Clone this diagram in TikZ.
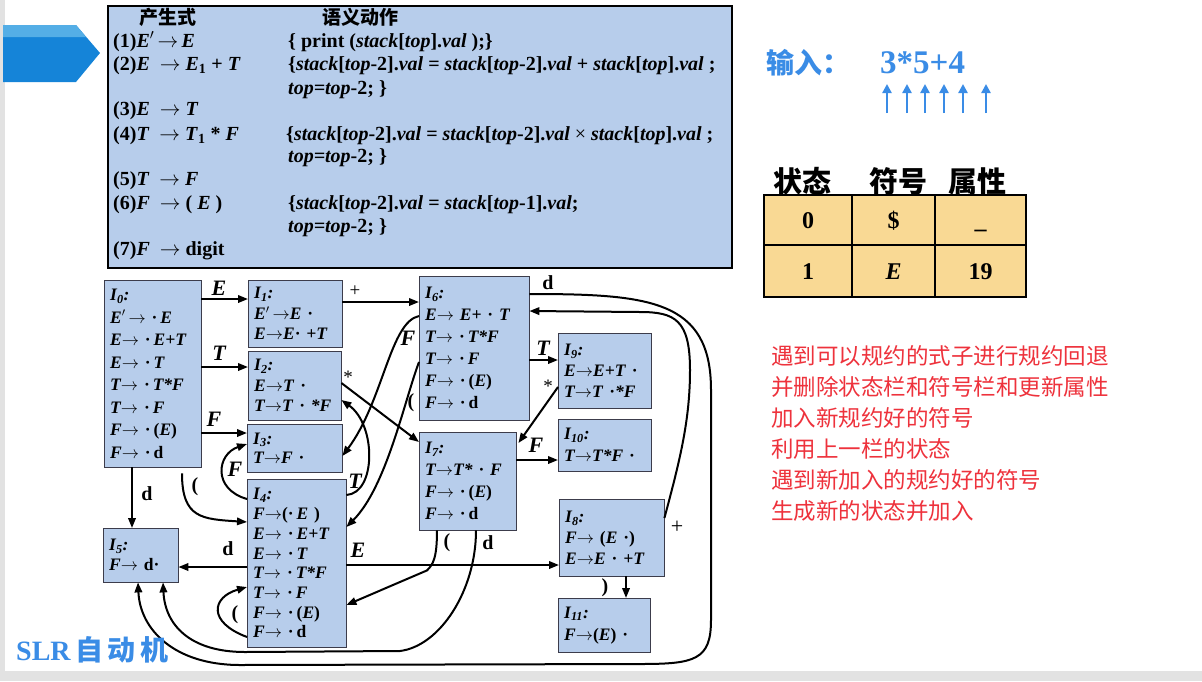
\documentclass[tikz,border=0pt]{standalone}
\usepackage{fontspec}
\setmainfont{Liberation Serif}
\newfontfamily\cjk{Noto Sans CJK SC}
\usetikzlibrary{arrows.meta,positioning}
\definecolor{boxblue}{RGB}{183,205,235}
\definecolor{boxline}{RGB}{60,60,75}
\definecolor{inblue}{RGB}{58,140,230}
\definecolor{tabfill}{RGB}{249,217,148}
\definecolor{notered}{RGB}{238,50,60}
\definecolor{tagdark}{RGB}{21,132,216}
\definecolor{taglight}{RGB}{84,174,230}
\definecolor{slidegray}{RGB}{226,226,226}
\newcommand{\st}[1]{\textit{I}\textsubscript{\textit{#1}}:}
\newcommand{\rarr}{$\rightarrow$}
\newcommand{\dt}{\textup{·}}
\newcommand{\lp}{\textup{(}}
\newcommand{\rp}{\textup{)}}

\begin{document}
\begin{tikzpicture}[x=1pt,y=-1pt,
    state/.style={draw=boxline, fill=boxblue, anchor=north west, align=left,
      inner xsep=6pt, inner ysep=0pt,
      font=\bfseries\itshape\fontsize{17.5}{#1}\selectfont},
    edge/.style={-{Triangle[length=10pt,width=7.5pt]}, line width=2pt},
    elab/.style={inner sep=0pt, font=\bfseries\itshape\fontsize{22}{22}\selectfont},
    slab/.style={inner sep=0pt, font=\bfseries\fontsize{20}{20}\selectfont},
    prodtxt/.style={anchor=base west, inner sep=0pt, font=\bfseries\fontsize{20}{20}\selectfont},
    cell/.style={draw=black, line width=1.5pt, fill=tabfill, inner sep=0pt,
      text height=17pt, text depth=0pt, font=\bfseries\fontsize{24}{24}\selectfont}]
  \useasboundingbox (0,0) rectangle (1202,681);
  \fill[slidegray] (0,0) rectangle (1202,681);
  \fill[white] (5,0) rectangle (1202,671);

  % --- Tag arrow ---
  \fill[tagdark] (3,25) -- (76,25) -- (100,53) -- (76,82) -- (3,82) -- cycle;
  \fill[taglight] (3,25) -- (76,25) -- (86,37) -- (3,37) -- cycle;

  % --- Productions and semantic actions ---
  \node[draw=black, line width=2pt, fill=boxblue, anchor=north west, inner sep=0pt,
    minimum width=624pt, minimum height=262pt] (prod) at (107,5) {};
  \node[font=\cjk\bfseries\fontsize{19}{19}\selectfont] (hprod) at (168,17) {产生式};
  \node[font=\cjk\bfseries\fontsize{19}{19}\selectfont] (hsem) at (360,17) {语义动作};
  \node[prodtxt] (p1) at (113,47) {(1)\textit{E}$'$\,\rarr\,\textit{E}};
  \node[prodtxt] (p2) at (113,70) {(2)\textit{E} \ \rarr\ \textit{E}\textsubscript{1} + \textit{T}};
  \node[prodtxt] (p3) at (113,115) {(3)\textit{E} \ \rarr\ \textit{T}};
  \node[prodtxt] (p4) at (113,140) {(4)\textit{T} \ \rarr\ \textit{T}\textsubscript{1} * \textit{F}};
  \node[prodtxt] (p5) at (113,185) {(5)\textit{T} \ \rarr\ \textit{F}};
  \node[prodtxt] (p6) at (113,209) {(6)\textit{F} \ \rarr\ ( \textit{E} )};
  \node[prodtxt] (p7) at (113,255) {(7)\textit{F} \ \rarr\ digit};
  \node[prodtxt] (a1) at (288,47) {\{ print (\textit{stack}[\textit{top}].\textit{val} );\}};
  \node[prodtxt] (a2) at (288,70) {\{\textit{stack}[\textit{top}-2].\textit{val} = \textit{stack}[\textit{top}-2].\textit{val} + \textit{stack}[\textit{top}].\textit{val} ;};
  \node[prodtxt] (a2b) at (288,94) {\textit{top=top}-2; \}};
  \node[prodtxt] (a4) at (286,140) {\{\textit{stack}[\textit{top}-2].\textit{val} = \textit{stack}[\textit{top}-2].\textit{val} {\mdseries ×} \textit{stack}[\textit{top}].\textit{val} ;};
  \node[prodtxt] (a4b) at (288,162) {\textit{top=top}-2; \}};
  \node[prodtxt] (a6) at (288,209) {\{\textit{stack}[\textit{top}-2].\textit{val} = \textit{stack}[\textit{top}-1].\textit{val};};
  \node[prodtxt] (a6b) at (288,232) {\textit{top=top}-2; \}};

  % --- SLR states ---
  \node[state=22.5, text width=85pt, minimum height=187pt] (I0) at (104,280)
    {\st{0}\\ E$'$\,\rarr\ \dt\,E\\ E\rarr\ \dt\,E+T\\ E\rarr\ \dt\,T\\ T\rarr\ \dt\,T*F\\ T\rarr\ \dt\,F\\ F\rarr\ \dt\,\lp E\rp\\ F\rarr\ \dt\,\textup{d}};
  \node[state=20.5, text width=82pt, minimum height=67pt] (I1) at (248,280)
    {\st{1}\\ E$'$\,\rarr E \dt\\ E\rarr E\dt\ +T};
  \node[state=20.5, text width=81pt, minimum height=69pt] (I2) at (248,351)
    {\st{2}\\ E\rarr T \dt\\ T\rarr T \dt\ *F};
  \node[state=19.5, text width=83pt, minimum height=48pt] (I3) at (247,424)
    {\st{3}\\ T\rarr F \dt};
  \node[state=19.7, text width=87pt, minimum height=168pt] (I4) at (247,479)
    {\st{4}\\ F\rarr\lp\dt\,E \rp\\ E\rarr\ \dt\,E+T\\ E\rarr\ \dt\,T\\ T\rarr\ \dt\,T*F\\ T\rarr\ \dt\,F\\ F\rarr\ \dt\,\lp E\rp\\ F\rarr\ \dt\,\textup{d}};
  \node[state=20, text width=63pt, minimum height=54pt] (I5) at (103,528)
    {\st{5}\\ F\rarr\ \textup{d}\dt};
  \node[state=22, text width=98pt, minimum height=144pt] (I6) at (419,276)
    {\st{6}\\ E\rarr\ E+\ \dt\ T\\ T\rarr\ \dt\,T*F\\ T\rarr\ \dt\,F\\ F\rarr\ \dt\,\lp E\rp\\ F\rarr\ \dt\,\textup{d}};
  \node[state=22, text width=85pt, minimum height=98pt] (I7) at (419,432)
    {\st{7}\\ T\rarr T*\ \dt\ F\\ F\rarr\ \dt\,\lp E\rp\\ F\rarr\ \dt\,\textup{d}};
  \node[state=21, text width=93pt, minimum height=77pt] (I8) at (559,499)
    {\st{8}\\ F\rarr\ \lp E \dt\rp\\ E\rarr E\ \dt\ +T};
  \node[state=21, text width=81pt, minimum height=75pt] (I9) at (558,333)
    {\st{9}\\ E\rarr E+T \dt\\ T\rarr T \dt*F};
  \node[state=22, text width=81pt, minimum height=52pt] (I10) at (558,419)
    {\st{10}\\ T\rarr T*F \dt};
  \node[state=22, text width=80pt, minimum height=54pt] (I11) at (558,598)
    {\st{11}\\ F\rarr\lp E\rp\ \dt};

  % --- Transitions ---
  \draw[edge] ([yshift=-19pt]I0.north east) -- ([yshift=-19pt]I1.north west);
  \draw[edge] ([yshift=-87pt]I0.north east) -- ([yshift=-16pt]I2.north west);
  \draw[edge] ([yshift=-153pt]I0.north east) -- ([yshift=-9pt]I3.north west);
  \draw[edge] ([yshift=-22pt]I1.north east) -- ([yshift=-26pt]I6.north west);
  \draw[edge] ([yshift=-84pt]I6.north east) -- ([yshift=-27pt]I9.north west);
  \draw[edge] ([yshift=-54pt]I9.north west) -- ([xshift=2pt,yshift=-11pt]I7.north east);
  \draw[edge] ([yshift=-28pt]I7.north east) -- ([yshift=-41pt]I10.north west);
  \draw[edge] ([yshift=-32pt]I2.north east) -- ([yshift=-10pt]I7.north west);
  \draw[edge] ([yshift=-40pt]I6.north west) .. controls +(-29,6) and +(41,-55) .. ([yshift=-32pt]I3.north east);
  \draw[edge] ([yshift=-86pt]I6.north west) .. controls +(-15,40) and +(40,-40) .. ([yshift=-48pt]I4.north east);
  \draw[edge] ([yshift=-16pt]I4.north east) .. controls +(30,-2) and +(35,25) .. ([yshift=-49pt]I2.north east);
  \draw[edge] ([yshift=-20pt]I4.north west) .. controls +(-35,-10) and +(-30,10) .. ([yshift=-20pt]I3.north west);
  \draw[edge] ([xshift=78pt,yshift=-6pt]I0.south west) .. controls +(0,45) and +(-45,-3) .. ([yshift=-43pt]I4.north west);
  \draw[edge] ([xshift=28pt]I0.south west) -- ([xshift=29pt]I5.north west);
  \draw[edge] ([yshift=-88pt]I4.north west) -- ([yshift=-39pt]I5.north east);
  \draw[edge] ([yshift=-86pt]I4.north east) -- ([yshift=-66pt]I8.north west);
  \draw[edge] ([yshift=-158pt]I4.north west) .. controls +(-40,-15) and +(-35,10) .. ([yshift=-108pt]I4.north west);
  \draw[edge] ([xshift=18pt]I7.south west) .. controls +(0,28) and +(6,-6) .. +(-10,40) -- ([yshift=-126pt]I4.north east);
  \draw[edge] ([xshift=57pt]I7.south west) .. controls +(0,60) and +(40,-5) .. (400,651) -- (245,652)
    .. controls (190,652) and (165,625) .. ([xshift=60pt]I5.south west);
  \draw[edge] ([yshift=-18pt]I6.north east) .. controls (650,294) and (711,300) .. (711,390) -- (711,620)
    .. controls (711,660) and (695,664) .. (640,664) -- (240,665)
    .. controls (175,665) and (140,630) .. ([xshift=35pt]I5.south west);
  \draw[edge] ([yshift=-19pt]I8.north east) .. controls (680,460) and (690,420) .. (690,370)
    .. controls (690,320) and (675,312) .. (640,312) -- ([yshift=-35pt]I6.north east);
  \draw[edge] ([xshift=67pt]I8.south west) -- ([xshift=68pt]I11.north west);

  % --- Transition labels ---
  \node[elab] (lE0) at (219,288) {E};
  \node[elab] (lT0) at (219,353) {T};
  \node[elab] (lF0) at (214,419) {F};
  \node[slab, font=\fontsize{19}{19}\selectfont] (lp1) at (355,291) {+};
  \node[elab] (lT6) at (543,348) {T};
  \node[slab, font=\fontsize{19}{19}\selectfont] (ls9) at (548,386) {*};
  \node[elab] (lF7) at (536,445) {F};
  \node[slab, font=\fontsize{19}{19}\selectfont] (ls2) at (348,377) {*};
  \node[elab] (lF6) at (408,338) {F};
  \node[slab] (lq6) at (411,403) {(};
  \node[elab] (lT4) at (355,481) {T};
  \node[elab] (lF4) at (235,469) {F};
  \node[slab] (lq0) at (195,487) {(};
  \node[slab] (ld0) at (147,494) {d};
  \node[slab] (ld4) at (228,549) {d};
  \node[elab] (lE4) at (358,550) {E};
  \node[slab] (lq4) at (235,615) {(};
  \node[slab] (lq7) at (447,543) {(};
  \node[slab] (ld7) at (488,543) {d};
  \node[slab] (ld6) at (548,283) {d};
  \node[slab, font=\fontsize{22}{22}\selectfont] (lp8) at (677,527) {+};
  \node[slab] (lr8) at (605,588) {)};

  % --- Input ---
  \node[anchor=west, inner sep=0pt, text=inblue, font=\cjk\bfseries\fontsize{28}{28}\selectfont] (inlab) at (766,63) {输入：};
  \node[anchor=west, inner sep=0pt, text=inblue, font=\bfseries\fontsize{33}{33}\selectfont] (inexpr) at (880,63) {3*5+4};
  \foreach \x in {887,907,925,944,963,986}
    \draw[inblue, line width=2.6pt, -{Triangle[length=9pt,width=9pt]}] (\x,113) -- (\x,84);

  % --- Stack table ---
  \node[font=\cjk\bfseries\fontsize{29}{29}\selectfont] (hst) at (802,181) {状态};
  \node[font=\cjk\bfseries\fontsize{29}{29}\selectfont] (hsym) at (898,181) {符号};
  \node[font=\cjk\bfseries\fontsize{29}{29}\selectfont] (hval) at (977,181) {属性};
  \node[cell, minimum width=88pt, minimum height=50pt] (c00) at (808,220) {0};
  \node[cell, minimum width=83pt, minimum height=50pt] (c01) at (893.5,220) {\$};
  \node[cell, minimum width=91pt, minimum height=50pt] (c02) at (980.5,220) {\_};
  \node[cell, minimum width=88pt, minimum height=52pt] (c10) at (808,271) {1};
  \node[cell, minimum width=83pt, minimum height=52pt] (c11) at (893.5,271) {\textit{E}};
  \node[cell, minimum width=91pt, minimum height=52pt] (c12) at (980.5,271) {19};

  % --- Notes ---
  \node[anchor=north west, align=left, inner sep=0pt, text=notered,
    font=\cjk\fontsize{22.5}{31}\selectfont] (notes) at (771,345)
    {遇到可以规约的式子进行规约回退\\并删除状态栏和符号栏和更新属性\\加入新规约好的符号\\利用上一栏的状态\\遇到新加入的规约好的符号\\生成新的状态并加入};

  % --- Title ---
  \node[anchor=west, inner sep=0pt, text=inblue, font=\bfseries\fontsize{28}{28}\selectfont] (title) at (16,650)
    {SLR{\cjk\,自\,动\,机}};
\end{tikzpicture}
\end{document}
